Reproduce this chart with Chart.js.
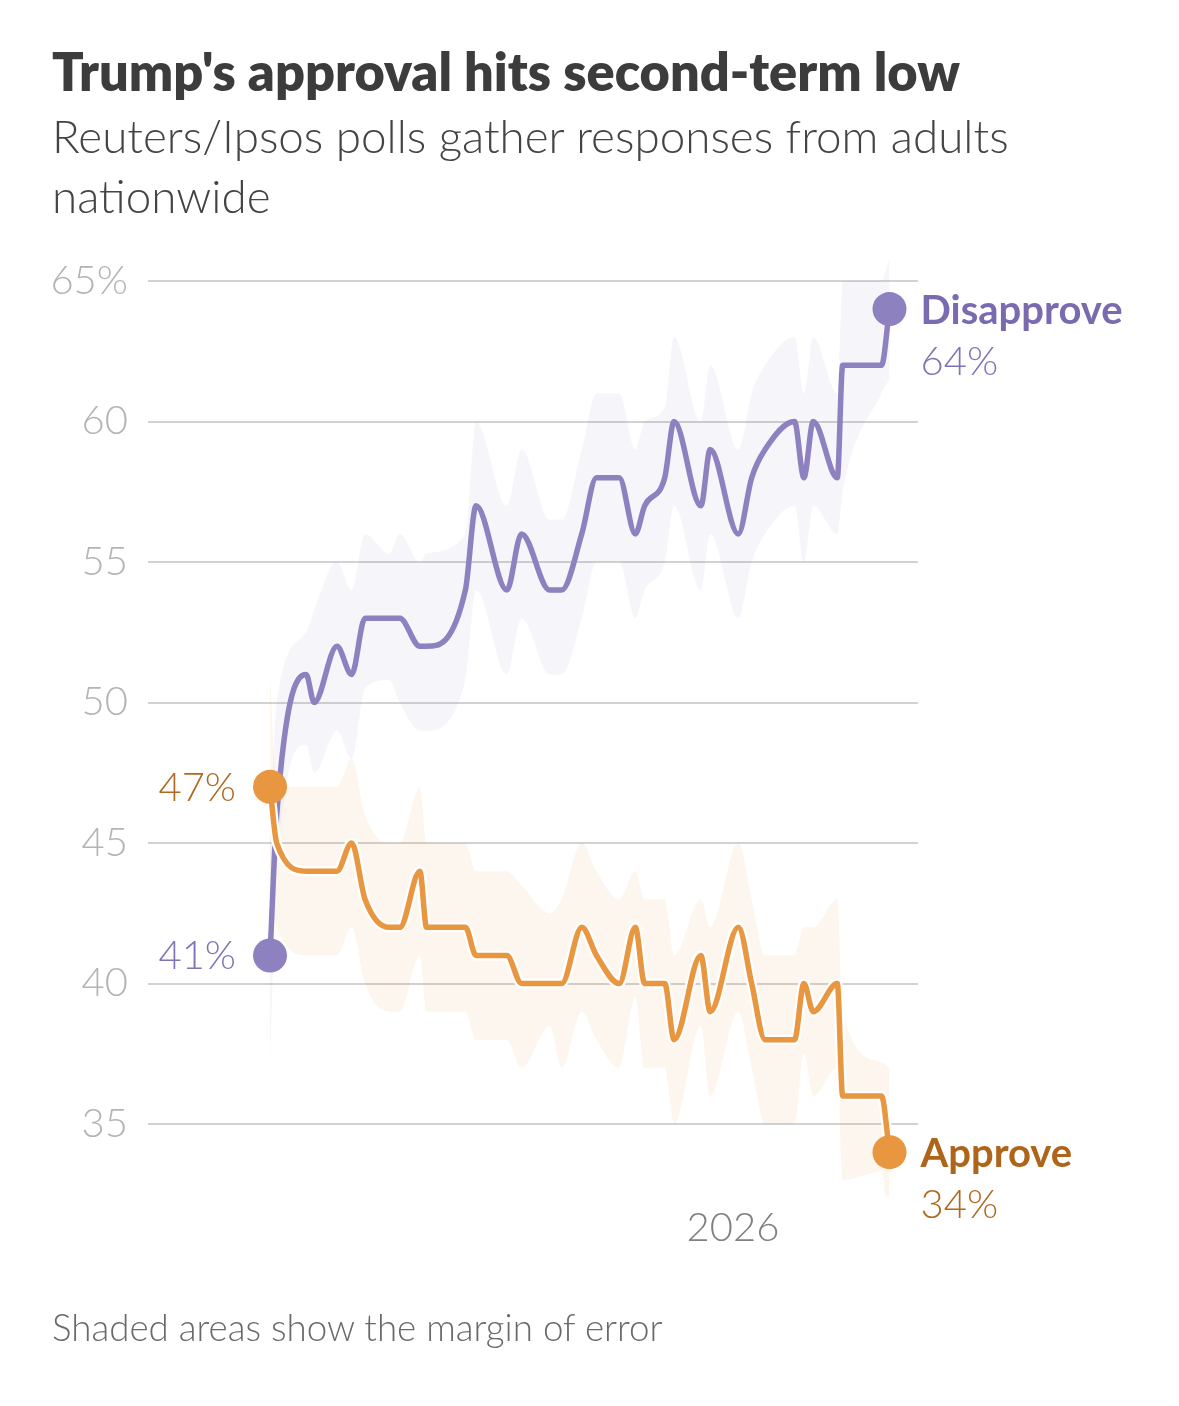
<!DOCTYPE html>
<html>
<head>
<meta charset="utf-8">
<script src="https://cdn.jsdelivr.net/npm/chart.js@4.4.1/dist/chart.umd.min.js"></script>
<style>
html,body{margin:0;padding:0;background:#fff;width:1179px;height:1406px;overflow:hidden;}
#wrap{position:relative;width:1179px;height:1406px;}
#c{position:absolute;left:0;top:0;}
.t{position:absolute;left:52px;white-space:nowrap;line-height:1;font-family:Lato,"Noto Sans",sans-serif;}
#title{font-weight:800;color:#3c3c3c;}
.sub{font-weight:300;color:#444444;}
#foot{font-weight:300;color:#6a6a6a;}
</style>
</head>
<body>
<div id="wrap">
<canvas id="c" width="1179" height="1406"></canvas>
<div class="t" id="title">Trump's approval hits second-term low</div>
<div class="t sub" id="sub1">Reuters/Ipsos polls gather responses from adults</div>
<div class="t sub" id="sub2">nationwide</div>
<div class="t" id="foot">Shaded areas show the margin of error</div>
</div>
<script>
// ---- data ----
const startDate = '2025-01-20';
const pollDates = ['2025-01-20','2025-01-25','2025-02-16','2025-02-22','2025-03-11','2025-03-22','2025-04-01','2025-04-19','2025-04-27','2025-05-12','2025-05-17','2025-06-15','2025-06-23','2025-07-16','2025-07-27','2025-08-17','2025-08-26','2025-09-10','2025-09-21','2025-10-08','2025-10-20','2025-10-27','2025-11-11','2025-11-18','2025-12-08','2025-12-15','2026-01-05','2026-01-15','2026-01-25','2026-02-16','2026-02-23','2026-03-02','2026-03-20','2026-03-24','2026-04-22','2026-04-28'];
const approve    = [47,45,44,44,44,45,43,42,42,44,42,42,41,41,40,40,40,42,41,40,42,40,40,38,41,39,42,40,38,38,40,39,40,36,36,34];
const disapprove = [41,46,51,50,52,51,53,53,53,52,52,54,57,54,56,54,54,56,58,58,56,57,58,60,57,59,56,58,59,60,58,60,58,62,62,64];
const approveLow  = [43,42,41,41,41,42,40,39,39,41,39,39,38,38,37,38.5,37,39,38,37,39.5,37,37,35,38.5,36,39,37,35,35,37.5,36,37,33,33.3,31];
const approveHigh = [51,47,47,47,47,48,46,45,45,47,45,45,44,44,43.5,42.5,43,45,44,43,44,43,43,41,43,42,45,43,41,41,42,42,43,39,37.2,37];
const disapproveLow  = [37,44,48.5,47.5,49,48,50.5,50.8,50,49,49,50.8,54,51,53,51,51,53,55,55,53,54,55,57,54,56,53,55,56,57,55,57,56,57.5,61,61.5];
const disapproveHigh = [45,50,52.5,53.3,55,54,56,55.3,56,55,55.3,56,60,57,59,56.5,56.5,59,61,61,59,60,60.5,63,60,62,59,61,62,63,61,63,61,65,65,65.8];
const seriesNames = ['Approve','Disapprove'];
const yTicks = [35,40,45,50,55,60,65];
const xTickDate = '2026-01-01';
const xTickLabel = '2026';

// ---- helpers ----
const DAY = 86400000;
const toDay = d => (Date.parse(d) - Date.parse(startDate)) / DAY;
const pts = arr => arr.map((v, i) => ({x: toDay(pollDates[i]), y: v}));

const PURPLE = '#8e81c0', ORANGE = '#e8963f';
const FONT = 'Lato, "Noto Sans", sans-serif';
const n = pollDates.length;
const endRadius = ctx => (ctx.dataIndex === 0 || ctx.dataIndex === n - 1) ? 17 : 0;

const bandBase = {borderWidth: 0, pointRadius: 0, cubicInterpolationMode: 'monotone', clip: false, order: 10};

const endLabels = {
  id: 'endLabels',
  afterDatasetsDraw(chart) {
    const ctx = chart.ctx;
    const dm = chart.getDatasetMeta(4).data, am = chart.getDatasetMeta(6).data;
    const d0 = dm[0], dl = dm[dm.length - 1], a0 = am[0], al = am[am.length - 1];
    ctx.save();
    ctx.textBaseline = 'middle';
    ctx.textAlign = 'left';
    ctx.font = '700 40px ' + FONT;
    ctx.fillStyle = '#7a6bb0';
    ctx.fillText(seriesNames[1], dl.x + 31, dl.y + 2);
    ctx.fillStyle = '#ae6419';
    ctx.fillText(seriesNames[0], al.x + 31, al.y + 2);
    ctx.font = '300 40px ' + FONT;
    ctx.fillStyle = '#8174b6';
    ctx.fillText(disapprove[n - 1] + '%', dl.x + 31, dl.y + 53);
    ctx.fillStyle = '#b0691f';
    ctx.fillText(approve[n - 1] + '%', al.x + 31, al.y + 53);
    ctx.textAlign = 'right';
    ctx.fillStyle = '#b0691f';
    ctx.fillText(approve[0] + '%', a0.x - 34, a0.y + 1);
    ctx.fillStyle = '#8174b6';
    ctx.fillText(disapprove[0] + '%', d0.x - 34, d0.y + 1);
    ctx.restore();
  }
};

new Chart(document.getElementById('c'), {
  type: 'line',
  data: {
    datasets: [
      Object.assign({label: 'disHigh', data: pts(disapproveHigh), fill: '+1', backgroundColor: 'rgba(143,130,192,0.08)'}, bandBase),
      Object.assign({label: 'disLow', data: pts(disapproveLow), fill: false}, bandBase),
      Object.assign({label: 'appHigh', data: pts(approveHigh), fill: '+1', backgroundColor: 'rgba(232,149,63,0.085)'}, bandBase),
      Object.assign({label: 'appLow', data: pts(approveLow), fill: false}, bandBase),
      {label: seriesNames[1], data: pts(disapprove), borderColor: PURPLE, backgroundColor: PURPLE, borderWidth: 5.5,
       cubicInterpolationMode: 'monotone', pointRadius: endRadius, pointHoverRadius: endRadius, pointBorderWidth: 0,
       borderCapStyle: 'round', borderJoinStyle: 'round', fill: false, clip: false, order: 3},
      {label: 'halo', data: pts(approve), borderColor: '#ffffff', borderWidth: 10, pointRadius: 0,
       cubicInterpolationMode: 'monotone', borderCapStyle: 'round', borderJoinStyle: 'round', fill: false, clip: false, order: 2},
      {label: seriesNames[0], data: pts(approve), borderColor: ORANGE, backgroundColor: ORANGE, borderWidth: 5.5,
       cubicInterpolationMode: 'monotone', pointRadius: endRadius, pointHoverRadius: endRadius, pointBorderWidth: 0,
       borderCapStyle: 'round', borderJoinStyle: 'round', fill: false, clip: false, order: 1}
    ]
  },
  options: {
    responsive: false,
    devicePixelRatio: 1,
    animation: false,
    events: [],
    layout: {padding: {left: 52, right: 261, top: 252.9, bottom: 150}},
    plugins: {legend: {display: false}, tooltip: {enabled: false}, title: {display: false}},
    scales: {
      x: {
        type: 'linear',
        min: -91.2,
        max: 484.3,
        grid: {display: false, drawTicks: false},
        border: {display: false},
        afterBuildTicks: s => { s.ticks = [{value: toDay(xTickDate)}]; },
        afterFit: s => { s.height = 60; },
        ticks: {autoSkip: false, maxRotation: 0, padding: 8, color: '#808080',
                font: {family: FONT, size: 40, weight: 300}, callback: () => xTickLabel}
      },
      y: {
        type: 'linear',
        min: 32.44,
        max: 66,
        grid: {color: '#d2d2d2', lineWidth: 2, drawTicks: false},
        border: {display: false},
        afterBuildTicks: s => { s.ticks = yTicks.map(v => ({value: v})); },
        afterFit: s => { s.width = 96; },
        ticks: {padding: 20, color: '#b4b4b4', font: {family: FONT, size: 40, weight: 300},
                callback: v => v === yTicks[yTicks.length - 1] ? v + '%' : String(v)}
      }
    }
  },
  plugins: [endLabels]
});

// ---- fit header/footer texts to the reference widths ----
const mctx = document.createElement('canvas').getContext('2d');
function metrics(weight, text) {
  mctx.font = weight + ' 100px ' + FONT;
  const m = mctx.measureText(text);
  const A = (m.fontBoundingBoxAscent || 98.7) / 100, D = (m.fontBoundingBoxDescent || 21.3) / 100;
  return {w: m.width / 100, off: (1 - (A + D)) / 2 + A};
}
function place(id, weight, targetW, baseline, forced) {
  const el = document.getElementById(id);
  const m = metrics(weight, el.textContent);
  const size = forced || targetW / m.w;
  el.style.fontSize = size + 'px';
  el.style.top = (baseline - m.off * size) + 'px';
  return size;
}
place('title', 800, 908, 92);
const s1 = place('sub1', 300, 958, 154);
place('sub2', 300, 0, 214, s1);
place('foot', 300, 612, 1342);
</script>
</body>
</html>
